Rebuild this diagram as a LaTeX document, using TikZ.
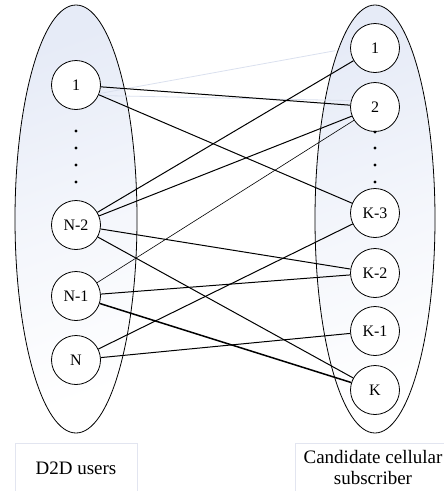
\documentclass[tikz,border=0pt]{standalone}
\usepackage{fontspec}
\setmainfont{Liberation Serif}
\usetikzlibrary{positioning}
\definecolor{cloud}{RGB}{230,235,247}
\definecolor{faintline}{RGB}{218,224,238}
\definecolor{boxline}{RGB}{226,229,240}
\tikzstyle{user set} = [%
	draw=black,
	line width=0.8pt,
	top color=cloud,
	bottom color=white,
	middle color=cloud!45!white,
	shading angle=20
]
\tikzstyle{user} = [%
	circle,
	draw=black,
	line width=0.8pt,
	fill=white,
	minimum size=49pt,
	inner sep=0pt,
	font=\fontsize{16}{16}\selectfont
]
\tikzstyle{caption} = [%
	draw=boxline,
	line width=0.8pt
]
\tikzstyle{caption label} = [%
	align=center,
	font=\fontsize{19}{21}\selectfont
]
\tikzstyle{faint} = [draw=faintline, line width=0.8pt]
\tikzset{every edge/.append style={
	draw=black,
	line width=1pt
}}

\begin{document}
\begin{tikzpicture}[x=1pt, y=-1pt]

\useasboundingbox (0,0) rectangle (444,491);

% user sets
\draw[user set] (76,219) ellipse [x radius=61, y radius=214];
\draw[user set] (375,219) ellipse [x radius=60, y radius=214];

% D2D users
\node[user] (l1) at (76,85) {1};
\node[user] (l2) at (76,225) {N-2};
\node[user] (l3) at (76,296) {N-1};
\node[user] (l4) at (76,360) {N};
\foreach \y in {131,148,165,182}
	\fill (76,\y) circle (1.6);

% cellular subscribers
\node[user] (r1) at (375,48) {1};
\node[user] (r2) at (375,107) {2};
\node[user] (r3) at (375,213) {K-3};
\node[user] (r4) at (375,273) {K-2};
\node[user] (r5) at (375,331) {K-1};
\node[user] (r6) at (375,390) {K};
\foreach \y in {132,148,165,182}
	\fill (375,\y) circle (1.6);

% faint links
\path[faint, shorten >=15pt] (l1.-20) -- (r1.west);
\path[faint] (l1.-25) -- (r2.165);

% candidate links
\path (l1) edge (r2)
      (l1) edge (r3)
      (l2) edge (r1)
      (l2) edge (r2)
      (l2) edge (r4)
      (l2) edge (r6)
      (l3) edge[line width=0.6pt] (r2)
      (l3) edge (r4)
      (l3) edge[line width=1.5pt] (r6)
      (l4) edge (r3)
      (l4) edge (r5);

% captions
\draw[caption] (15,495) -- (15,443) -- (137,443) -- (137,495);
\draw[caption] (295,495) -- (295,443) -- (455,443) -- (455,495);
\node[caption label] (d2d) at (76,468) {D2D users};
\node[caption label] (cell) at (373,467.5) {Candidate cellular\\subscriber};

\end{tikzpicture}
\end{document}
